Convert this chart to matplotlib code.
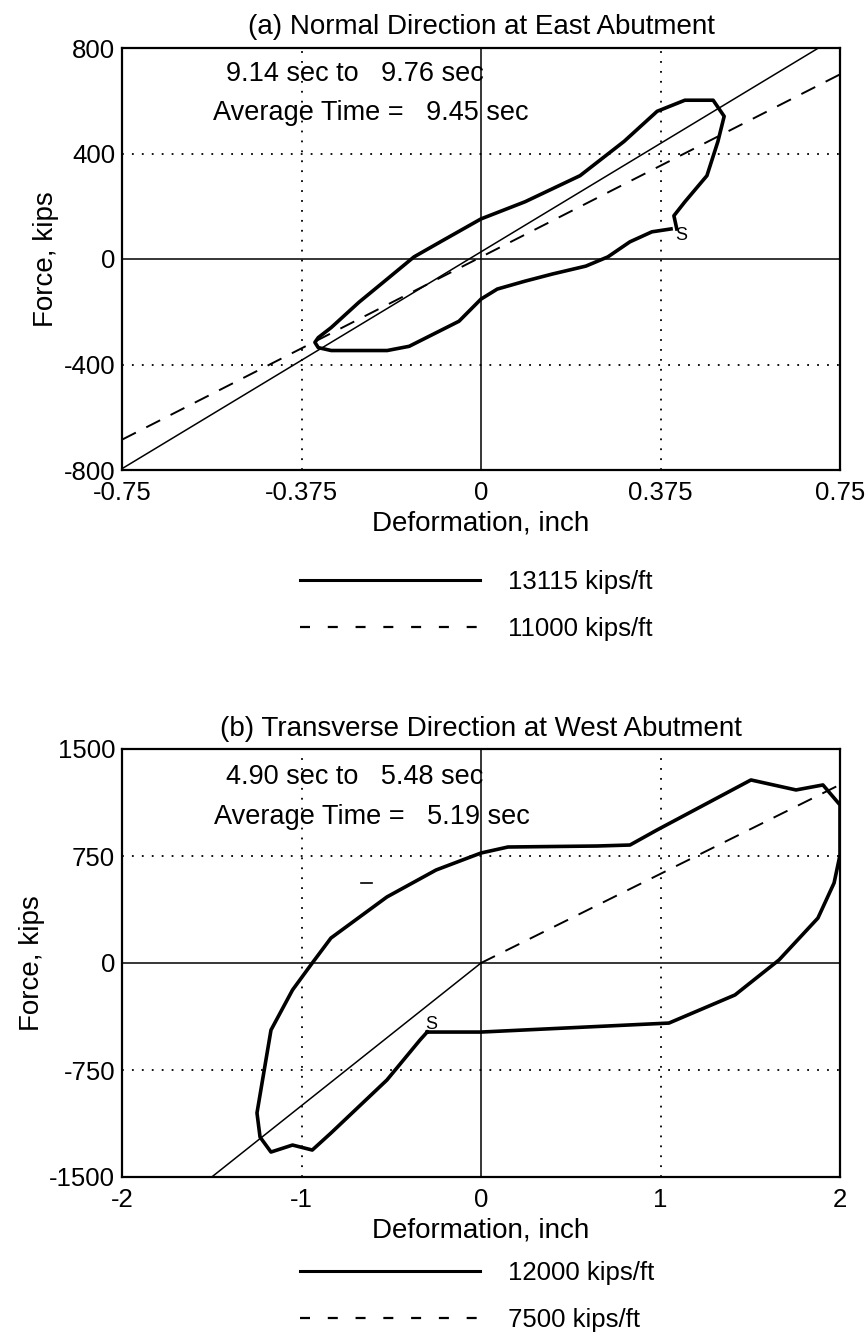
import matplotlib
matplotlib.use("Agg")
import matplotlib.pyplot as plt

plt.rcParams['font.family'] = ['Liberation Sans', 'DejaVu Sans']

# (a) Normal direction at east abutment
a_loop_x = [0.397, 0.357, 0.311, 0.265, 0.219, 0.149, 0.092, 0.034, 0.0, -0.046, -0.150,
            -0.196, -0.313, -0.340, -0.347, -0.340, -0.313, -0.255, -0.196, -0.140, -0.081,
            0.0, 0.092, 0.207, 0.299, 0.368, 0.426, 0.485, 0.508, 0.495, 0.472, 0.426, 0.403, 0.409]
a_loop_y = [114, 103, 65, 8, -27, -57, -84, -114, -152, -236, -331,
            -347, -347, -336, -316, -298, -260, -164, -76, 8, 69,
            152, 217, 316, 446, 560, 602, 602, 541, 446, 316, 217, 164, 114]
a_k1_x = [-0.75, 0.705]
a_k1_y = [-795, 800]
a_k2_x = [-0.75, 0.75]
a_k2_y = [-685, 700]
a_xticks = [-0.75, -0.375, 0, 0.375, 0.75]
a_xlabels = ['-0.75', '-0.375', '0', '0.375', '0.75']
a_yticks = [-800, -400, 0, 400, 800]
a_ylabels = ['-800', '-400', '0', '400', '800']

# (b) Transverse direction at west abutment
b_loop_x = [-0.30, 0.0, 1.047, 1.415, 1.66, 1.877, 1.967, 2.0, 2.0, 1.905, 1.755, 1.504,
            0.98, 0.83, 0.646, 0.15, 0.0, -0.25, -0.524, -0.836, -0.94, -1.05, -1.17,
            -1.248, -1.231, -1.17, -1.05, -0.94, -0.836, -0.524, -0.34, -0.30]
b_loop_y = [-484, -484, -421, -224, 21, 315, 561, 757, 1108, 1248, 1213, 1283,
            932, 827, 820, 813, 771, 652, 463, 175, 0, -189, -470,
            -1051, -1220, -1325, -1276, -1311, -1192, -820, -540, -484]
b_k1_x = [-1.5, 0.0]
b_k1_y = [-1500, 0]
b_k2_x = [0.0, 2.0]
b_k2_y = [0, 1250]
b_stray_x = [-0.67, -0.61]
b_stray_y = [560, 560]
b_xticks = [-2, -1, 0, 1, 2]
b_xlabels = ['-2', '-1', '0', '1', '2']
b_yticks = [-1500, -750, 0, 750, 1500]
b_ylabels = ['-1500', '-750', '0', '750', '1500']

fig = plt.figure(figsize=(8.66, 13.33), dpi=100)

W = 866.0
H = 1333.0


def make_axes(top_px, bottom_px):
    return fig.add_axes([122 / W, 1 - bottom_px / H, 718 / W, (bottom_px - top_px) / H])


def style(ax, xlim, ylim, xticks, xlabels, yticks, ylabels, title, tpad):
    ax.set_xlim(xlim)
    ax.set_ylim(ylim)
    ax.set_xticks(xticks)
    ax.set_xticklabels(xlabels)
    ax.set_yticks(yticks)
    ax.set_yticklabels(ylabels)
    ax.tick_params(length=0, labelsize=18.5)
    ax.tick_params(axis='x', pad=8)
    ax.tick_params(axis='y', pad=5)
    for s in ax.spines.values():
        s.set_linewidth(1.6)
    # dotted grid, solid zero lines
    for t in xticks[1:-1]:
        if t == 0:
            ax.axvline(t, color='k', lw=1.1)
        else:
            ax.axvline(t, color='k', lw=1.3, ls=(0, (1, 4.5)))
    for t in yticks[1:-1]:
        if t == 0:
            ax.axhline(t, color='k', lw=1.1)
        else:
            ax.axhline(t, color='k', lw=1.3, ls=(0, (1, 4.5)))
    ax.set_title(title, fontsize=20, pad=tpad)
    ax.set_xlabel('Deformation, inch', fontsize=20, labelpad=4)
    ax.set_ylabel('Force, kips', fontsize=20, labelpad=3)


def add_legend(ax, handles, top_px):
    leg = ax.legend(handles=handles, loc='upper left', bbox_to_anchor=(300 / W, 1 - top_px / H),
                    bbox_transform=fig.transFigure, frameon=False, fontsize=18.5, handlelength=7.0,
                    handletextpad=1.1, labelspacing=0.9, borderpad=0, borderaxespad=0)
    leg.get_lines()[0].set_linewidth(2.2)
    leg.get_lines()[1].set_linewidth(1.6)
    leg.get_lines()[1].set_linestyle((0, (4.5, 8)))


# ---- top plot
ax1 = make_axes(48, 470)
ax1.plot(a_loop_x, a_loop_y, color='k', lw=2.6)
l1, = ax1.plot(a_k1_x, a_k1_y, color='k', lw=1.1, label='13115 kips/ft')
l2, = ax1.plot(a_k2_x, a_k2_y, color='k', lw=1.4, ls=(0, (8, 6)), label='11000 kips/ft')
style(ax1, (-0.75, 0.75), (-800, 800), a_xticks, a_xlabels, a_yticks, a_ylabels,
      '(a) Normal Direction at East Abutment', 10)
ax1.text(-0.533, 701, '9.14 sec to   9.76 sec', fontsize=19.5, va='center')
ax1.text(-0.56, 552, 'Average Time =   9.45 sec', fontsize=19.5, va='center')
ax1.text(0.405, 90, 'S', fontsize=13, va='center')
add_legend(ax1, [l1, l2], 570)

# ---- bottom plot
ax2 = make_axes(749, 1177)
ax2.plot(b_loop_x, b_loop_y, color='k', lw=2.6)
m1, = ax2.plot(b_k1_x, b_k1_y, color='k', lw=1.1, label='12000 kips/ft')
m2, = ax2.plot(b_k2_x, b_k2_y, color='k', lw=1.4, ls=(0, (8, 6)), label='7500 kips/ft')
ax2.plot(b_stray_x, b_stray_y, color='k', lw=1.2)
style(ax2, (-2, 2), (-1500, 1500), b_xticks, b_xlabels, b_yticks, b_ylabels,
      '(b) Transverse Direction at West Abutment', 9)
ax2.text(-1.42, 1304, '4.90 sec to   5.48 sec', fontsize=19.5, va='center')
ax2.text(-1.49, 1023, 'Average Time =   5.19 sec', fontsize=19.5, va='center')
ax2.text(-0.31, -430, 'S', fontsize=13, va='center')
add_legend(ax2, [m1, m2], 1261)

fig.savefig('out.png', dpi=100)
